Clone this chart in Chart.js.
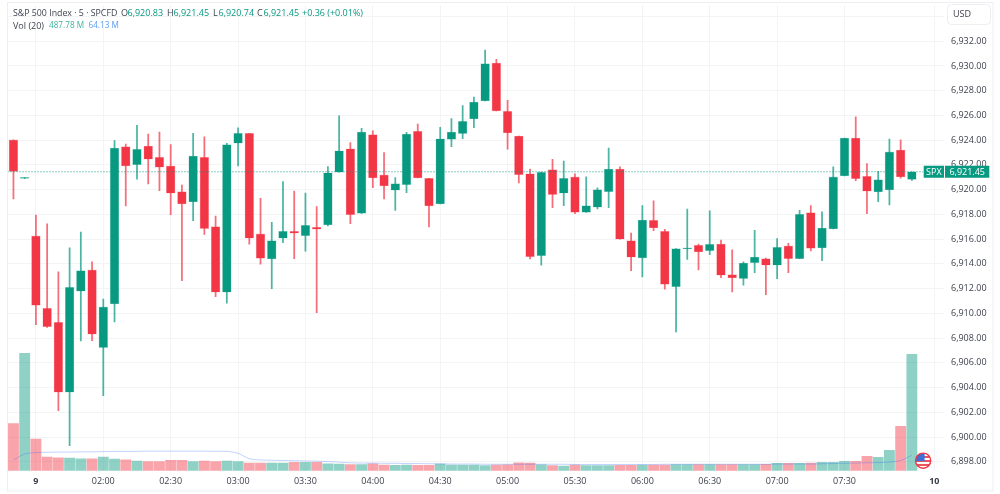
<!DOCTYPE html>
<html>
<head>
<meta charset="utf-8">
<title>S&amp;P 500 Index, 5 minute candles</title>
<style>
  html, body { margin: 0; padding: 0; background: #ffffff; }
  #wrap { width: 1000px; height: 494px; position: relative; }
  canvas { display: block; }
</style>
<script src="https://cdn.jsdelivr.net/npm/chart.js@4"></script>
</head>
<body>
<div id="wrap"><canvas id="chart" width="1000" height="494"></canvas></div>
<script>
// Session candles, one per five minutes
const opens = [
  6924.02, 6920.90, 6916.26, 6910.41, 6909.28, 6903.62, 6911.79, 6913.51, 6907.23, 6910.76,
  6923.48, 6922.02, 6923.53, 6922.62, 6921.92, 6919.84, 6919.01, 6922.62, 6917.01, 6911.71,
  6923.75, 6924.56, 6916.42, 6914.40, 6916.07, 6916.64, 6916.28, 6916.96, 6917.15, 6921.41,
  6923.31, 6918.09, 6924.45, 6921.19, 6919.95, 6920.40, 6924.72, 6920.92, 6918.84, 6924.07,
  6924.53, 6925.72, 6927.17, 6930.24, 6926.34, 6924.34, 6921.29, 6914.66, 6921.62, 6919.71,
  6921.03, 6918.17, 6918.58, 6919.84, 6921.67, 6915.88, 6914.48, 6917.53, 6916.64, 6912.16,
  6915.20, 6915.51, 6915.07, 6915.61, 6913.13, 6912.81, 6914.10, 6914.42, 6913.89, 6915.45,
  6914.42, 6918.14, 6915.29, 6916.82, 6921.11, 6924.18, 6921.08, 6919.81, 6919.98, 6923.21,
  6920.83
];
const highs = [
  6924.02, 6920.97, 6917.95, 6917.23, 6913.35, 6915.29, 6916.58, 6914.16, 6911.16, 6923.96,
  6923.69, 6925.21, 6924.50, 6924.66, 6923.64, 6920.38, 6924.56, 6924.28, 6917.87, 6923.75,
  6924.99, 6924.56, 6919.30, 6917.36, 6920.65, 6919.89, 6919.73, 6918.63, 6921.86, 6925.96,
  6923.80, 6924.96, 6924.75, 6922.99, 6920.97, 6924.64, 6925.31, 6920.92, 6925.04, 6925.74,
  6926.79, 6927.49, 6931.29, 6930.54, 6927.23, 6924.34, 6921.67, 6921.43, 6922.46, 6922.32,
  6921.29, 6921.03, 6920.14, 6923.37, 6921.84, 6916.50, 6918.71, 6919.09, 6916.80, 6915.23,
  6918.44, 6915.61, 6918.28, 6915.93, 6915.13, 6914.16, 6916.72, 6914.46, 6916.04, 6915.67,
  6918.33, 6918.71, 6918.20, 6921.84, 6924.18, 6925.88, 6922.10, 6921.49, 6924.10, 6924.02,
  6921.45
];
const lows = [
  6919.25, 6920.89, 6909.09, 6908.86, 6902.13, 6899.30, 6907.77, 6907.79, 6903.35, 6909.30,
  6918.68, 6920.84, 6920.46, 6919.92, 6917.98, 6912.64, 6917.49, 6916.39, 6911.35, 6910.82,
  6921.92, 6915.59, 6913.97, 6912.00, 6915.72, 6914.42, 6915.02, 6910.06, 6917.07, 6921.41,
  6917.25, 6918.09, 6920.16, 6919.25, 6918.33, 6919.76, 6920.95, 6916.98, 6918.84, 6923.48,
  6924.12, 6925.01, 6927.17, 6926.36, 6923.27, 6920.54, 6914.40, 6913.89, 6918.54, 6918.71,
  6918.06, 6918.17, 6918.44, 6918.54, 6915.99, 6913.45, 6912.94, 6916.69, 6911.95, 6908.50,
  6914.37, 6913.51, 6914.75, 6912.89, 6911.73, 6912.27, 6913.29, 6911.51, 6912.81, 6913.29,
  6914.42, 6915.04, 6914.26, 6916.82, 6921.11, 6920.73, 6918.06, 6919.03, 6918.76, 6920.92,
  6920.74
];
const closes = [
  6921.47, 6920.96, 6910.65, 6908.92, 6903.62, 6912.11, 6913.45, 6908.31, 6910.52, 6923.37,
  6921.92, 6923.27, 6922.46, 6921.81, 6919.71, 6918.84, 6922.72, 6916.85, 6911.71, 6923.64,
  6924.56, 6916.07, 6914.45, 6915.88, 6916.64, 6916.48, 6917.12, 6916.80, 6921.37, 6923.15,
  6917.98, 6924.66, 6920.95, 6920.30, 6920.49, 6924.50, 6920.95, 6918.68, 6924.12, 6924.66,
  6925.53, 6927.09, 6930.19, 6926.36, 6924.58, 6921.21, 6914.58, 6921.41, 6919.60, 6920.92,
  6918.17, 6918.71, 6920.00, 6921.67, 6915.99, 6914.54, 6917.55, 6916.90, 6912.35, 6915.23,
  6915.27, 6914.96, 6915.59, 6913.08, 6912.86, 6914.07, 6914.56, 6913.89, 6915.34, 6914.42,
  6918.01, 6915.26, 6916.90, 6921.03, 6924.18, 6920.89, 6919.87, 6920.81, 6923.05, 6921.03,
  6921.45
];
// Volume per candle and its 20-period average, in millions
const volumes = [
  197, 492, 133, 57, 54, 53, 50, 50, 57, 49,
  46, 40, 38, 38, 43, 43, 38, 40, 38, 40,
  38, 32, 32, 32, 32, 35, 35, 35, 29, 28,
  26, 26, 29, 24, 22, 24, 22, 22, 28, 24,
  24, 24, 21, 24, 25, 33, 32, 25, 21, 19,
  24, 21, 21, 21, 22, 22, 24, 24, 24, 26,
  26, 26, 26, 26, 26, 26, 26, 27, 31, 31,
  31, 32, 35, 35, 39, 39, 60, 56, 85, 186,
  487.78
];
const volumeAverage = [
  45, 70, 76, 77, 78, 78, 79, 79, 80, 81,
  81, 81, 82, 82, 82, 82, 82, 82, 81, 81,
  73, 50, 45, 44, 43, 42, 41, 40, 38, 36,
  33, 32, 32, 31, 31, 30, 30, 29, 29, 28,
  28, 28, 27, 27, 27, 27, 27, 27, 27, 27,
  26, 26, 26, 26, 26, 26, 26, 26, 27, 27,
  27, 27, 27, 27, 27, 27, 27, 27, 28, 28,
  28, 28, 29, 30, 31, 32, 33, 34, 36, 43,
  64.13
];
// Time axis labels, by candle position
const timeTickSlots = [2, 8, 14, 20, 26, 32, 38, 44, 50, 56, 62, 68, 74, 82];
const timeTickLabels = ['9', '02:00', '02:30', '03:00', '03:30', '04:00', '04:30', '05:00', '05:30', '06:00', '06:30', '07:00', '07:30', '10'];
const lastPrice = 6921.45;

const GREEN = '#089981', RED = '#F23645';
const GRID = '#f3f4f6';
const isUp = i => closes[i] >= opens[i];
const candleIdx = opens.map((_, i) => i);

const plotBox = { left: 7.5, right: 944, top: 5, bottom: 470.7 };
const FONT = '"Open Sans", sans-serif';

// Axis label overhang must not shrink the plot area
function noOverhang(scale) {
  scale.paddingLeft = 0;
  scale.paddingRight = 0;
  scale.paddingTop = 0;
  scale.paddingBottom = 0;
}

// Header text, price tags, the currency button and the session flag
const overlay = {
  id: 'overlay',
  afterDatasetsDraw(chart) {
    const { ctx, scales } = chart;
    ctx.save();

    // outer frame
    ctx.strokeStyle = '#eceef2';
    ctx.lineWidth = 1;
    ctx.strokeRect(7.5, 2.5, 985.5, 488.5);

    // price tags
    const py = scales.y.getPixelForValue(lastPrice);
    ctx.fillStyle = GREEN;
    ctx.fillRect(923.7, py - 6, 20.3, 12);
    ctx.fillRect(945, py - 6, 44.3, 12);
    ctx.fillStyle = '#ffffff';
    ctx.font = '9px ' + FONT;
    ctx.textBaseline = 'middle';
    ctx.textAlign = 'center';
    ctx.fillText('SPX', 933.8, py + 0.5);
    ctx.fillText('6,921.45', 967.2, py + 0.5);

    // currency button
    ctx.fillStyle = '#ffffff';
    ctx.strokeStyle = '#eceef2';
    ctx.beginPath();
    ctx.roundRect(947.5, 4.5, 43, 20, 4);
    ctx.fill();
    ctx.stroke();
    ctx.fillStyle = '#3a3e49';
    ctx.font = '9px ' + FONT;
    ctx.textAlign = 'left';
    ctx.fillText('USD', 953, 14.5);

    // header lines
    const row = (x, y, t, c) => { ctx.fillStyle = c; ctx.fillText(t, x, y); };
    const dark = '#3f434e', up = '#089981';
    ctx.font = '8.8px ' + FONT;
    row(13, 13, 'S&P 500 Index · 5 · SPCFD', dark);
    ctx.font = '9px ' + FONT;
    row(121, 13, 'O', dark); row(127.5, 13, '6,920.83', up);
    row(167, 13, 'H', dark); row(173.5, 13, '6,921.45', up);
    row(213, 13, 'L', dark); row(218.5, 13, '6,920.74', up);
    row(257, 13, 'C', dark); row(263.5, 13, '6,921.45', up);
    row(302, 13, '+0.36 (+0.01%)', up);
    row(13, 26, 'Vol (20)', dark);
    ctx.font = '8.2px ' + FONT;
    row(49, 26, '487.78 M', '#3fb19f');
    row(88.5, 26, '64.13 M', '#5b9cf6');

    // session flag
    const fx = scales.x.getPixelForValue(81), fy = 460.7;
    ctx.beginPath();
    ctx.arc(fx, fy, 7.6, 0, Math.PI * 2);
    ctx.fillStyle = '#ffffff';
    ctx.fill();
    ctx.save();
    ctx.clip();
    ctx.fillStyle = '#e8434f';
    [-4.6, -0.6, 3.4].forEach(d => ctx.fillRect(fx - 8, fy + d, 16, 1.8));
    ctx.fillStyle = '#3d6fd6';
    ctx.fillRect(fx - 8, fy - 8, 9.5, 8.4);
    ctx.restore();
    ctx.beginPath();
    ctx.arc(fx, fy, 7.6, 0, Math.PI * 2);
    ctx.strokeStyle = '#F23645';
    ctx.lineWidth = 1.4;
    ctx.stroke();

    ctx.restore();
  }
};

new Chart(document.getElementById('chart'), {
  data: {
    datasets: [
      {
        type: 'bar', label: 'Vol', yAxisID: 'yVol', order: 6,
        data: candleIdx.map(i => ({ x: i, y: volumes[i] })),
        backgroundColor: candleIdx.map(i => isUp(i) ? 'rgba(8,153,129,0.45)' : 'rgba(242,54,69,0.45)'),
        barThickness: 10.2, grouped: false
      },
      {
        type: 'line', label: 'Vol MA', yAxisID: 'yVol', order: 5,
        data: candleIdx.map(i => ({ x: i, y: volumeAverage[i] })),
        borderColor: 'rgba(41,98,255,0.28)', borderWidth: 1, pointRadius: 0, tension: 0.3
      },
      {
        type: 'bar', label: 'Wick', yAxisID: 'y', order: 4,
        data: candleIdx.map(i => ({ x: i, y: [lows[i], highs[i]] })),
        backgroundColor: candleIdx.map(i => isUp(i) ? 'rgba(8,153,129,0.72)' : 'rgba(242,54,69,0.72)'),
        barThickness: 1.1, grouped: false
      },
      {
        type: 'bar', label: 'Body', yAxisID: 'y', order: 3,
        data: candleIdx.map(i => ({ x: i, y: [opens[i], closes[i]] })),
        backgroundColor: candleIdx.map(i => isUp(i) ? GREEN : RED),
        borderColor: candleIdx.map(i => isUp(i) ? 'rgba(8,153,129,0.35)' : 'rgba(242,54,69,0.35)'),
        borderWidth: 0.6, borderSkipped: false,
        barThickness: 8.8, minBarLength: 1.2, grouped: false
      },
      {
        type: 'line', label: 'Last', yAxisID: 'y', order: 2,
        data: [{ x: -0.53, y: lastPrice }, { x: 81, y: lastPrice }],
        borderColor: 'rgba(8,153,129,0.95)', borderWidth: 1, borderDash: [1, 2], pointRadius: 0
      }
    ]
  },
  options: {
    responsive: false,
    animation: false,
    parsing: { xAxisKey: 'x', yAxisKey: 'y' },
    layout: { padding: { left: plotBox.left, right: 7, top: plotBox.top, bottom: 0 } },
    plugins: { legend: { display: false }, tooltip: { enabled: false }, title: { display: false } },
    scales: {
      x: {
        type: 'linear', position: 'bottom', offset: false,
        min: -0.53, max: 82.86,
        afterBuildTicks(scale) { scale.ticks = timeTickSlots.map(v => ({ value: v })); },
        afterFit(scale) { scale.height = 494 - plotBox.bottom; noOverhang(scale); },
        ticks: {
          autoSkip: false, maxRotation: 0, padding: 5.5,
          color: '#3a3e49',
          font: ctx => ({ family: FONT, size: 9, weight: ctx.tick && (ctx.tick.value === 2 || ctx.tick.value === 82) ? '700' : '400' }),
          callback: v => timeTickLabels[timeTickSlots.indexOf(v)]
        },
        grid: { color: GRID, lineWidth: 1, drawTicks: false, offset: false },
        border: { display: false }
      },
      y: {
        type: 'linear', position: 'right',
        min: 6897.28, max: 6934.93,
        afterBuildTicks(scale) {
          const t = [];
          for (let v = 6898; v <= 6934; v += 2) t.push({ value: v });
          scale.ticks = t;
        },
        afterFit(scale) { scale.width = 1000 - plotBox.right - 7; noOverhang(scale); },
        ticks: {
          autoSkip: false, padding: 7, color: '#3a3e49',
          font: { family: FONT, size: 9 },
          callback: v => v === 6934 ? '' : v.toLocaleString('en-US', { minimumFractionDigits: 2 })
        },
        grid: { color: GRID, lineWidth: 1, drawTicks: false },
        border: { display: false }
      },
      yVol: {
        type: 'linear', display: false, position: 'right',
        min: 0, max: 1951.8,
        grid: { display: false }
      }
    }
  },
  plugins: [overlay]
});
</script>
</body>
</html>
